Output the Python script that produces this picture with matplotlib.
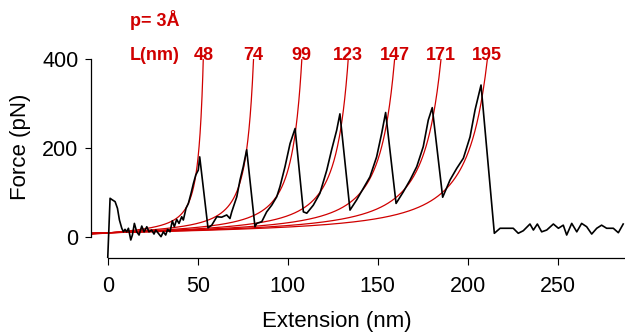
import numpy as np
import matplotlib
matplotlib.use("Agg")
import matplotlib.pyplot as plt
import matplotlib.transforms as mtransforms

plt.rcParams['font.family'] = ['Liberation Sans', 'DejaVu Sans']

# force-extension trace
ext_nm = [
    0.0, 1.3, 2.2, 4.1, 5.4, 6.5, 7.8, 8.7, 9.6, 10.5, 11.5, 12.8, 13.7, 14.8,
    16.1, 17.4, 18.9, 20.2, 21.7, 22.9, 24.4, 25.7, 26.7, 28.1, 29.6, 30.9,
    32.2, 33.3, 34.6, 35.9, 37.0, 38.3, 39.6, 41.1, 42.0, 43.5, 44.8, 46.3,
    47.6, 48.9, 50.3, 51.1,
    55.7, 57.8, 60.6, 63.3, 66.1, 67.9, 68.9, 71.7, 73.5, 75.3, 77.2,
    81.8, 82.8, 85.6, 88.3, 91.1, 93.9, 95.7, 98.5, 101.3, 104.1,
    108.7, 110.6, 114.2, 117.9, 121.7, 124.4, 127.2, 129.0,
    134.6, 138.3, 142.0, 145.7, 149.4, 152.2, 154.4,
    160.2, 164.2, 168.0, 171.7, 175.3, 178.1, 180.3,
    186.1, 190.2, 193.9, 197.6, 201.3, 204.1, 207.4,
    214.8, 218.0, 221.7, 225.3, 228.1, 230.9, 234.6, 236.5, 238.7, 241.1,
    243.9, 247.6, 250.4, 253.1, 255.0, 257.8, 260.6, 263.3, 266.1, 268.9,
    271.7, 274.4, 277.2, 280.9, 283.7, 286.4,
]
force_pN = [
    -48.0, 86.6, 84.0, 79.0, 64.0, 37.6, 19.0, 11.0, 16.6, 11.0, 19.0, -7.4, 3.8, 30.0,
    11.0, 3.8, 24.0, 11.0, 22.5, 11.0, 15.0, 6.0, 15.0, 7.7, 0.0, 11.0,
    3.8, 16.6, 11.0, 36.0, 22.5, 39.0, 30.0, 45.0, 37.6, 64.0, 75.0, 98.0,
    120.0, 139.0, 150.0, 180.0,
    20.0, 26.0, 45.0, 44.0, 49.0, 41.0, 56.0, 90.0, 128.0, 158.0, 196.0,
    22.5, 30.0, 34.0, 56.0, 71.0, 90.0, 113.0, 158.0, 210.0, 244.0,
    56.0, 53.0, 71.0, 98.0, 150.0, 196.0, 240.0, 277.0,
    60.0, 83.0, 109.0, 135.0, 180.0, 233.0, 280.0,
    75.0, 101.0, 128.0, 158.0, 203.0, 263.0, 291.0,
    89.0, 128.0, 154.0, 177.0, 225.0, 286.0, 342.0,
    7.7, 19.0, 19.0, 19.0, 7.7, 13.5, 28.6, 15.0, 28.6, 11.0,
    15.0, 28.6, 19.0, 26.0, 3.8, 30.0, 11.0, 30.0, 22.5, 6.0,
    19.0, 26.0, 19.0, 19.0, 9.0, 28.6,
]

# worm-like-chain fits
persistence_nm = 0.3
contour_nm = [48, 74, 99, 123, 147, 171, 195]
kT = 4.11           # pN nm
fit_stretch = 1.186  # fit extension -> plotted extension
fit_shift = 1.55     # nm
fit_offset = 9.0     # pN baseline

xlim = (-9.3, 287.4)
ylim = (-48.7, 400)
red = '#d00000'


def wlc(x_plot, L):
    u = (np.asarray(x_plot) - fit_shift) / fit_stretch / L
    return fit_offset + kT / persistence_nm * (0.25 / (1 - u) ** 2 - 0.25 + u)


fig = plt.figure(figsize=(6.25, 3.33), dpi=100)
ax = fig.add_axes([91 / 625, 1 - 258.3 / 333, 1 - 91 / 625, (258.3 - 59.3) / 333])

label_x = []
for L in contour_nm:
    xmax = fit_shift + fit_stretch * 0.95 * L
    xs = np.linspace(xlim[0], xmax, 600)
    fs = wlc(xs, L)
    ax.plot(xs, fs, color=red, lw=0.9, zorder=2)
    label_x.append(np.interp(ylim[1], fs, xs))

ax.plot(ext_nm, force_pN, color='black', lw=1.2, zorder=3)

ax.set_xlim(*xlim)
ax.set_ylim(*ylim)
ax.spines['top'].set_visible(False)
ax.spines['right'].set_visible(False)
ax.spines['left'].set_bounds(0, 400)
ax.spines['bottom'].set_bounds(0, xlim[1])
for s in ('left', 'bottom'):
    ax.spines[s].set_linewidth(0.9)
ax.set_xticks([0, 50, 100, 150, 200, 250])
ax.set_yticks([0, 200, 400])
ax.tick_params(axis='y', direction='out', length=4.5, width=0.8, pad=4.5, labelsize=15.5)
ax.tick_params(axis='x', direction='out', length=5, width=0.8, pad=8, labelsize=15.5)

fig.text(336.7 / 625, 1 - 327 / 333, 'Extension (nm)', ha='center', va='baseline', fontsize=16)
fig.text(21 / 625, 1 - 147 / 333, 'Force (pN)', ha='center', va='center',
         rotation=90, fontsize=16)

# red annotations
fig.text(130 / 625, 1 - 26 / 333, 'p= 3Å', color=red, fontsize=13,
         fontweight='bold', ha='left', va='baseline')
fig.text(130 / 625, 1 - 60.5 / 333, 'L(nm)', color=red, fontsize=13,
         fontweight='bold', ha='left', va='baseline')
trans = mtransforms.blended_transform_factory(ax.transData, fig.transFigure)
for L, x in zip(contour_nm, label_x):
    ax.text(x, 1 - 60.5 / 333, str(L), color=red, fontsize=13, fontweight='bold',
            ha='center', va='baseline', transform=trans, clip_on=False)

fig.savefig('out.png', dpi=100)
